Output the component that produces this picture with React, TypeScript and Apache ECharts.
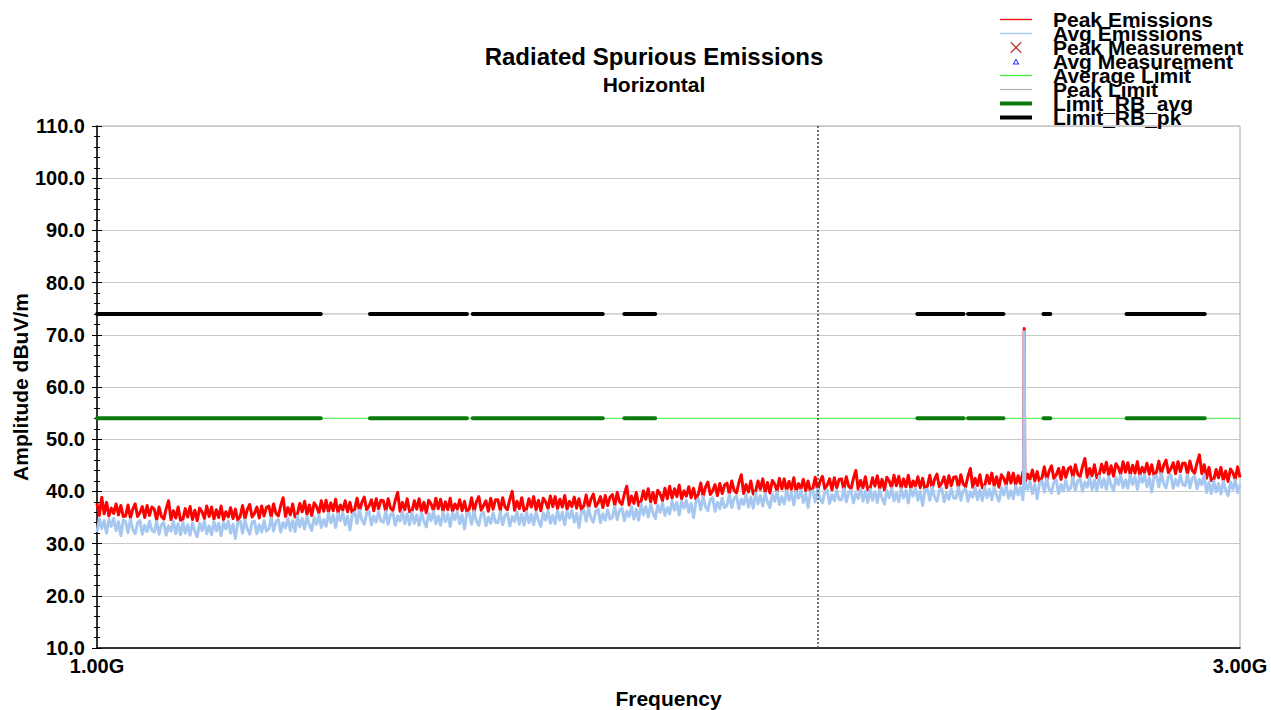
import React, { useEffect, useRef } from "react";
import * as echarts from "echarts";

// Peak trace (dBuV/m), read from the sweep, left (1 GHz) to right (3 GHz)
const peakEmissions: number[] = [
  37.7, 35.4, 38.9, 35.7, 37.9, 35.3, 36.8, 35.8, 37.6, 35.5, 37.3, 35.2,
  35.3, 37.4, 34.9, 36.6, 37.6, 35.2, 35.9, 37.1, 35.0, 37.3, 35.4, 37.0,
  36.6, 34.5, 37.0, 35.2, 34.7, 36.7, 38.2, 34.6, 36.3, 34.9, 37.0, 34.5,
  34.7, 36.7, 35.1, 37.1, 34.6, 36.4, 34.4, 36.8, 36.1, 34.8, 37.2, 35.2,
  37.0, 34.7, 36.5, 35.0, 37.2, 34.6, 36.1, 35.1, 36.9, 34.8, 36.6, 34.5,
  35.2, 37.3, 34.8, 36.5, 37.5, 35.1, 35.8, 37.0, 34.9, 37.2, 35.3, 36.9,
  37.2, 35.1, 37.6, 35.8, 35.3, 37.3, 38.8, 35.2, 36.9, 35.5, 37.6, 35.1,
  35.7, 37.7, 36.1, 38.1, 35.6, 37.4, 35.4, 37.8, 37.1, 35.8, 38.2, 36.2,
  38.3, 36.0, 37.8, 36.3, 38.5, 35.9, 37.4, 36.4, 38.2, 36.1, 37.9, 35.8,
  36.6, 38.7, 36.2, 37.9, 38.9, 36.5, 37.2, 38.4, 36.3, 38.6, 36.7, 38.3,
  38.2, 36.1, 38.6, 36.8, 36.3, 38.3, 39.8, 36.2, 37.9, 36.5, 38.6, 36.1,
  36.2, 38.2, 36.6, 38.6, 36.1, 37.9, 35.9, 38.3, 37.6, 36.3, 38.7, 36.7,
  38.5, 36.2, 38.0, 36.5, 38.7, 36.1, 37.6, 36.6, 38.4, 36.3, 38.1, 36.0,
  36.7, 38.8, 36.1, 38.0, 39.0, 36.4, 37.3, 38.2, 36.2, 38.7, 36.6, 38.4,
  38.4, 36.3, 38.8, 37.0, 36.5, 38.5, 40.0, 36.4, 38.1, 36.7, 38.8, 36.3,
  36.6, 38.6, 37.0, 39.0, 36.5, 38.3, 36.3, 38.7, 38.0, 36.7, 39.1, 37.1,
  39.0, 36.7, 38.5, 37.0, 39.2, 36.6, 38.1, 37.1, 38.9, 36.8, 38.6, 36.5,
  37.2, 39.3, 36.8, 38.5, 39.5, 37.1, 37.8, 39.0, 36.9, 39.2, 37.3, 38.9,
  39.4, 37.3, 39.8, 38.0, 37.5, 39.5, 41.0, 37.4, 39.1, 37.7, 39.8, 37.3,
  38.1, 40.1, 38.5, 40.5, 38.0, 39.8, 37.8, 40.2, 39.5, 38.2, 40.6, 38.6,
  41.0, 38.7, 40.5, 39.0, 41.2, 38.6, 40.1, 39.1, 40.9, 38.8, 40.6, 38.5,
  39.5, 41.6, 39.1, 40.8, 41.8, 39.4, 40.1, 41.3, 39.2, 41.5, 39.6, 41.2,
  41.6, 39.5, 42.0, 40.2, 39.7, 41.7, 43.2, 39.6, 41.3, 39.9, 42.0, 39.5,
  40.0, 42.0, 40.4, 42.4, 39.9, 41.7, 39.7, 42.1, 41.4, 40.1, 42.5, 40.5,
  42.4, 40.1, 41.9, 40.4, 42.6, 40.0, 41.5, 40.5, 42.3, 40.2, 42.0, 39.9,
  40.6, 42.7, 40.2, 41.9, 42.9, 40.5, 41.2, 42.4, 40.3, 42.6, 40.7, 42.3,
  42.4, 40.3, 42.8, 41.0, 40.5, 42.5, 44.0, 40.4, 42.1, 40.7, 42.8, 40.3,
  40.6, 42.6, 41.0, 43.0, 40.5, 42.3, 40.3, 42.7, 42.0, 40.7, 43.1, 41.1,
  42.9, 40.6, 42.4, 40.9, 43.1, 40.5, 42.0, 41.0, 42.8, 40.7, 42.5, 40.4,
  41.0, 43.1, 40.6, 42.3, 43.3, 40.9, 41.6, 42.8, 40.7, 43.0, 41.1, 42.7,
  42.8, 40.7, 43.2, 41.4, 40.9, 42.9, 44.4, 40.8, 42.5, 41.1, 43.2, 40.7,
  41.1, 43.1, 41.5, 43.5, 41.0, 42.8, 40.8, 43.2, 42.5, 41.2, 43.6, 41.6,
  43.5, 41.2, 43.0, 41.5, 43.7, 41.8, 43.3, 42.3, 44.1, 42.0, 43.8, 41.7,
  42.6, 44.7, 42.2, 43.9, 44.9, 42.5, 43.2, 44.4, 42.3, 44.6, 42.7, 44.3,
  44.7, 42.6, 45.1, 43.3, 42.8, 44.8, 46.3, 42.7, 44.4, 43.0, 45.1, 42.6,
  43.2, 45.2, 43.6, 45.6, 43.1, 44.9, 42.9, 45.3, 44.6, 43.3, 45.7, 43.7,
  45.5, 43.2, 45.0, 43.5, 45.7, 43.1, 44.6, 43.6, 45.4, 43.3, 45.1, 43.0,
  43.7, 45.8, 43.3, 45.0, 46.0, 43.6, 44.3, 45.5, 43.4, 45.7, 43.8, 45.4,
  45.4, 43.3, 45.8, 44.0, 43.5, 45.5, 47.0, 43.4, 45.1, 42.5, 44.6, 42.1,
  42.2, 44.2, 42.6, 44.6, 42.1, 43.9, 41.9, 44.3, 43.6, 42.3, 44.7, 42.7,
];

// Average trace (dBuV/m), same sweep points
const avgEmissions: number[] = [
  32.2, 34.7, 32.9, 34.4, 32.0, 34.6, 33.3, 34.8, 32.5, 34.2, 31.5, 34.5,
  34.2, 32.1, 34.6, 32.7, 31.9, 34.0, 34.4, 31.8, 33.5, 32.3, 34.3, 32.5,
  32.2, 34.3, 31.8, 33.6, 34.0, 31.6, 33.4, 32.4, 34.3, 31.9, 33.8, 31.7,
  34.1, 32.0, 33.6, 31.6, 34.0, 32.4, 31.3, 33.9, 32.5, 34.3, 31.9, 33.4,
  31.7, 34.2, 32.4, 33.9, 31.5, 34.1, 32.8, 34.3, 32.0, 33.7, 31.0, 34.0,
  34.3, 32.0, 34.5, 32.8, 31.8, 34.1, 34.3, 31.9, 33.6, 32.2, 34.4, 32.4,
  32.8, 34.9, 32.4, 34.2, 34.6, 32.2, 34.0, 33.0, 34.9, 32.5, 34.4, 32.3,
  35.3, 33.2, 34.8, 32.8, 35.2, 33.6, 32.5, 35.1, 33.7, 35.5, 33.1, 34.6,
  33.3, 35.8, 34.0, 35.5, 33.1, 35.7, 34.4, 35.9, 33.6, 35.3, 32.6, 35.6,
  36.0, 33.9, 36.4, 34.5, 33.7, 35.8, 36.2, 33.6, 35.3, 34.1, 36.1, 34.3,
  34.1, 36.2, 33.7, 35.5, 35.9, 33.5, 35.3, 34.3, 36.2, 33.8, 35.7, 33.6,
  36.0, 33.9, 35.5, 33.5, 35.9, 34.3, 33.2, 35.8, 34.4, 36.2, 33.8, 35.3,
  33.5, 36.0, 34.2, 35.7, 33.3, 35.9, 34.6, 36.1, 33.8, 35.5, 32.8, 35.8,
  35.8, 33.7, 36.2, 34.3, 33.5, 35.6, 36.0, 33.4, 35.1, 33.9, 35.9, 34.1,
  34.0, 36.1, 33.6, 35.4, 35.8, 33.4, 35.2, 34.2, 36.1, 33.7, 35.6, 33.5,
  36.1, 34.0, 35.6, 33.6, 36.0, 34.4, 33.3, 35.9, 34.5, 36.3, 33.9, 35.4,
  33.8, 36.3, 34.5, 36.0, 33.6, 36.2, 34.9, 36.4, 34.1, 35.8, 33.1, 36.1,
  36.4, 34.3, 36.8, 34.9, 34.1, 36.2, 36.6, 34.0, 35.7, 34.5, 36.5, 34.7,
  35.0, 37.1, 34.6, 36.4, 36.8, 34.4, 36.2, 35.2, 37.1, 34.7, 36.6, 34.5,
  37.6, 35.5, 37.1, 35.1, 37.5, 35.9, 34.8, 37.4, 36.0, 37.8, 35.4, 36.9,
  35.7, 38.2, 36.4, 37.9, 35.5, 38.1, 36.8, 38.3, 36.0, 37.7, 35.0, 38.0,
  38.6, 36.5, 39.0, 37.1, 36.3, 38.4, 38.8, 36.2, 37.9, 36.7, 38.7, 36.9,
  37.3, 39.4, 36.9, 38.7, 39.1, 36.7, 38.5, 37.5, 39.4, 37.0, 38.9, 36.8,
  39.7, 37.6, 39.2, 37.2, 39.6, 38.0, 36.9, 39.5, 38.1, 39.9, 37.5, 39.0,
  37.6, 40.1, 38.3, 39.8, 37.4, 40.0, 38.7, 40.2, 37.9, 39.6, 36.9, 39.9,
  40.1, 38.0, 40.5, 38.6, 37.8, 39.9, 40.3, 37.7, 39.4, 38.2, 40.2, 38.4,
  38.4, 40.5, 38.0, 39.8, 40.2, 37.8, 39.6, 38.6, 40.5, 38.1, 40.0, 37.9,
  40.4, 38.3, 39.9, 37.9, 40.3, 38.7, 37.6, 40.2, 38.8, 40.6, 38.2, 39.7,
  38.0, 40.5, 38.7, 40.2, 37.8, 40.4, 39.1, 40.6, 38.3, 40.0, 37.3, 40.3,
  40.4, 38.3, 40.8, 38.9, 38.1, 40.2, 40.6, 38.0, 39.7, 38.5, 40.5, 38.7,
  38.7, 40.8, 38.3, 40.1, 40.5, 38.1, 39.9, 38.9, 40.8, 38.4, 40.3, 38.2,
  40.9, 38.8, 40.4, 38.4, 40.8, 39.2, 38.1, 40.7, 39.3, 41.1, 38.7, 40.2,
  38.6, 41.1, 39.3, 40.8, 38.4, 41.7, 40.4, 41.9, 39.6, 41.3, 38.6, 41.6,
  42.0, 39.9, 42.4, 40.5, 39.7, 41.8, 42.2, 39.6, 41.3, 40.1, 42.1, 40.3,
  40.6, 42.7, 40.2, 42.0, 42.4, 40.0, 41.8, 40.8, 42.7, 40.3, 42.2, 40.1,
  42.9, 40.8, 42.4, 40.4, 42.8, 41.2, 40.1, 42.7, 41.3, 43.1, 40.7, 42.2,
  40.6, 43.1, 41.3, 42.8, 40.4, 43.0, 41.7, 43.2, 40.9, 42.6, 39.9, 42.9,
  43.0, 40.9, 43.4, 41.5, 40.7, 42.8, 43.2, 40.6, 42.3, 41.1, 43.1, 41.3,
  41.1, 43.2, 40.7, 42.5, 42.9, 40.5, 42.3, 41.3, 43.2, 39.8, 41.7, 39.6,
  42.0, 39.9, 41.5, 39.5, 41.9, 40.3, 39.2, 41.8, 40.4, 42.2, 39.8, 41.3,
];

// Narrow emission near 2.44 GHz
const spikeFreqs: number[] = [2.4365, 2.438, 2.4395];
const peakSpike: number[] = [42.6, 71.2, 42.9];
const avgSpike: number[] = [40.3, 70.6, 40.5];

// Limits (dBuV/m)
const averageLimit = 54;
const peakLimit = 74;

// Restricted bands (GHz) where the RB limits apply
const restrictedBands: [number, number][] = [
  [1.0, 1.24], [1.3, 1.427], [1.435, 1.626], [1.6425, 1.6435], [1.66, 1.71],
  [1.7185, 1.7195], [2.2, 2.3], [2.31, 2.39], [2.4835, 2.5], [2.69, 2.9],
];

const freqMin = 1;
const freqMax = 3;
const markerFreq = 2;
const yMin = 10;
const yMax = 110;
const yStep = 10;

const FONT = "'Liberation Sans', Arial, Helvetica, sans-serif";

// sweep points, evenly spaced on the log frequency axis
const sweep = peakEmissions.map((_, i) =>
  Math.pow(freqMax / freqMin, i / (peakEmissions.length - 1)) * freqMin
);

function traceWithSpike(vals: number[], spike: number[]) {
  const pts: (number | null)[][] = sweep.map((f, i) => [f, vals[i]]);
  spikeFreqs.forEach((f, i) => pts.push([f, spike[i]]));
  pts.sort((a, b) => (a[0] as number) - (b[0] as number));
  return pts;
}

function bandLine(level: number) {
  const pts: (number | null)[][] = [];
  restrictedBands.forEach(([a, b]) => {
    pts.push([a, level], [b, level], [b + 0.0001, null]);
  });
  return pts;
}

const thinIcon = "path://M0,0h32v1.3h-32z";
const thickIcon = "path://M0,0h32v4h-32z";
const crossIcon =
  "path://M-1,-1M11,11M0,0.8L0.8,0L5,4.2L9.2,0L10,0.8L5.8,5L10,9.2L9.2,10L5,5.8L0.8,10L0,9.2L4.2,5Z";
const triIcon =
  "path://M-3.5,-4M10.5,10M3.5,0L7,6L0,6ZM3.5,2L1.7,5L5.3,5Z";

export default function App() {
  const ref = useRef<HTMLDivElement>(null);

  useEffect(() => {
    if (!ref.current) return;
    const chart = echarts.init(ref.current, undefined, { renderer: "svg" });

    const axisTextStyle = {
      fontFamily: FONT,
      fontSize: 20,
      fontWeight: "bold" as const,
      color: "#000",
    };

    chart.setOption({
      animation: false,
      backgroundColor: "#fff",
      title: [
        {
          text: "Radiated Spurious Emissions",
          left: 649,
          top: 39,
          textAlign: "center",
          padding: 5,
          textStyle: { fontFamily: FONT, fontSize: 24, fontWeight: "bold", color: "#000" },
        },
        {
          text: "Horizontal",
          left: 649,
          top: 69,
          textAlign: "center",
          padding: 5,
          textStyle: { fontFamily: FONT, fontSize: 21, fontWeight: "bold", color: "#000" },
        },
      ],
      legend: {
        orient: "vertical",
        left: 995,
        top: 4,
        itemWidth: 32,
        itemHeight: 14,
        itemGap: -7,
        selectedMode: false,
        itemStyle: { borderWidth: 0 },
        textStyle: {
          fontFamily: FONT,
          fontSize: 21,
          fontWeight: "bold",
          color: "#000",
          lineHeight: 14,
          padding: [0, 0, 0, 16],
        },
        data: [
          { name: "Peak Emissions", icon: thinIcon },
          { name: "Avg Emissions", icon: thinIcon },
          { name: "Peak Measurement", icon: crossIcon },
          { name: "Avg Measurement", icon: triIcon },
          { name: "Average Limit", icon: thinIcon },
          { name: "Peak Limit", icon: thinIcon },
          { name: "Limit_RB_avg", icon: thickIcon },
          { name: "Limit_RB_pk", icon: thickIcon },
        ],
      },
      grid: {
        left: 97,
        right: 31,
        top: 126,
        bottom: 62,
        show: true,
        borderColor: "#a8a8a8",
        borderWidth: 1,
        backgroundColor: "transparent",
        containLabel: false,
        outerBoundsMode: "none",
      },
      xAxis: {
        type: "log",
        logBase: 3,
        min: freqMin,
        max: freqMax,
        name: "Frequency",
        nameLocation: "middle",
        nameGap: 40,
        nameMoveOverlap: false,
        nameTextStyle: { ...axisTextStyle, fontSize: 21 },
        axisLine: { onZero: false, lineStyle: { color: "#000", width: 1.5 } },
        axisTick: { show: false },
        splitLine: { show: false },
        axisLabel: {
          ...axisTextStyle,
          margin: 8,
          showMinLabel: true,
          showMaxLabel: true,
          formatter: (v: number) => v.toFixed(2) + "G",
        },
      },
      yAxis: [
        {
          type: "value",
          min: yMin,
          max: yMax,
          interval: yStep,
          name: "Amplitude dBuV/m",
          nameLocation: "middle",
          nameGap: 66,
          nameMoveOverlap: false,
          nameTextStyle: { ...axisTextStyle, fontSize: 21 },
          axisLine: { show: true, lineStyle: { color: "#000", width: 1.5 } },
          axisTick: { show: true, length: 5, lineStyle: { color: "#000", width: 1 } },
          minorTick: { show: true, splitNumber: 5, length: 3, lineStyle: { color: "#000", width: 1 } },
          splitLine: { show: true, lineStyle: { color: "#c8c8c8", width: 1 } },
          axisLabel: {
            ...axisTextStyle,
            margin: 12,
            formatter: (v: number) => v.toFixed(1),
          },
        },
        {
          type: "value",
          min: yMin,
          max: yMax,
          interval: yStep,
          position: "left",
          axisLine: { show: false },
          axisTick: { show: true, inside: true, length: 5, lineStyle: { color: "#000", width: 1 } },
          minorTick: { show: true, splitNumber: 5, length: 3, lineStyle: { color: "#000", width: 1 } },
          splitLine: { show: false },
          axisLabel: { show: false },
        },
      ],
      series: [
        {
          name: "Peak Limit",
          type: "line",
          showSymbol: false,
          symbol: "none",
          color: "#b4b4b4",
          lineStyle: { width: 1, color: "#b4b4b4" },
          data: [[freqMin, peakLimit], [freqMax, peakLimit]],
        },
        {
          name: "Average Limit",
          type: "line",
          showSymbol: false,
          symbol: "none",
          color: "#3cf03c",
          lineStyle: { width: 1, color: "#3cf03c" },
          data: [[freqMin, averageLimit], [freqMax, averageLimit]],
        },
        {
          name: "Limit_RB_pk",
          type: "line",
          showSymbol: false,
          symbol: "none",
          color: "#000000",
          lineStyle: { width: 4, color: "#000000", cap: "round" },
          data: bandLine(peakLimit),
        },
        {
          name: "Limit_RB_avg",
          type: "line",
          showSymbol: false,
          symbol: "none",
          color: "#0a7a0a",
          lineStyle: { width: 4, color: "#0a7a0a", cap: "round" },
          data: bandLine(averageLimit),
        },
        {
          name: "Peak Emissions",
          type: "line",
          showSymbol: false,
          symbol: "none",
          color: "#ff0000",
          lineStyle: { width: 3, color: "#ff0000", join: "round" },
          data: traceWithSpike(peakEmissions, peakSpike),
        },
        {
          name: "Avg Emissions",
          type: "line",
          showSymbol: false,
          symbol: "none",
          color: "#a6c8f0",
          lineStyle: { width: 3, color: "#a6c8f0", join: "round" },
          data: traceWithSpike(avgEmissions, avgSpike),
          markLine: {
            silent: true,
            symbol: "none",
            label: { show: false },
            lineStyle: { color: "#444", width: 1.5, type: [2, 2] },
            data: [{ xAxis: markerFreq }],
          },
        },
        {
          name: "Peak Measurement",
          type: "scatter",
          color: "#a00000",
          data: [],
        },
        {
          name: "Avg Measurement",
          type: "scatter",
          color: "#0000ff",
          data: [],
        },
      ],
    });

    return () => chart.dispose();
  }, []);

  return (
    <div
      ref={ref}
      style={{ position: "fixed", left: 0, top: 0, width: 1271, height: 710 }}
    />
  );
}
